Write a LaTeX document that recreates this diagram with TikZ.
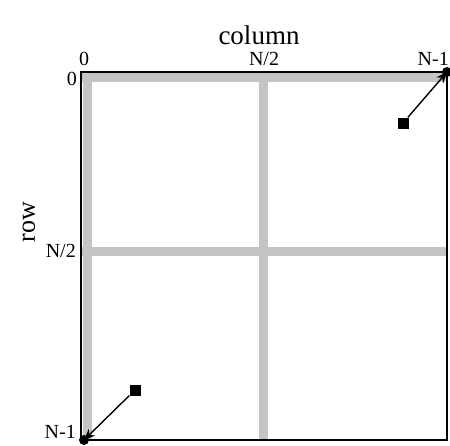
\documentclass[tikz,border=0pt]{standalone}
\usepackage{fontspec}
\setmainfont{Liberation Serif}
\usetikzlibrary{arrows.meta}
\definecolor{band}{HTML}{C4C4C4}

\begin{document}
\begin{tikzpicture}[x=1pt,y=-1pt,font=\fontsize{20}{22}\selectfont]
        \useasboundingbox (0,0) rectangle (450,445);
        % grey bands for rows/columns 0 and N/2
        \draw[band,line width=9pt] (82,77.5)--(448,77.5);
        \draw[band,line width=9pt] (87,73)--(87,440);
        \draw[band,line width=9pt] (263.5,73)--(263.5,440);
        \draw[band,line width=9pt] (82,251.5)--(448,251.5);
        \draw[line width=2.4pt] (81,72) rectangle (447,440);
        \coordinate (TR) at (447,72);
        \coordinate (BL) at (84,440);
        \fill (TR) circle (5);
        \fill (BL) circle (5);
        \node[fill,minimum size=11pt,inner sep=0pt] (s1) at (403,123) {};
        \node[fill,minimum size=11pt,inner sep=0pt] (s2) at (135,390) {};
        \draw[-{Stealth[length=11pt,width=9pt]},line width=1.4pt] (s1)--(TR);
        \draw[-{Stealth[length=11pt,width=9pt]},line width=1.4pt] (s2)--(BL);
        \node[font=\fontsize{27}{30}\selectfont,inner sep=0pt] (col) at (259,35) {column};
        \node[inner sep=1pt] (c0) at (84,59) {0};
        \node[inner sep=1pt] (c2) at (264,59) {N/2};
        \node[anchor=east,inner sep=1pt] (c3) at (450,59) {N-1};
        \node[anchor=east,inner sep=2pt] (r0) at (79,79) {0};
        \node[anchor=east,inner sep=2pt] (r2) at (78,251) {N/2};
        \node[anchor=east,inner sep=2pt] (r3) at (78,432) {N-1};
        \node[rotate=90,font=\fontsize{26}{28}\selectfont] (row) at (29,222) {row};
      \end{tikzpicture}
\end{document}
